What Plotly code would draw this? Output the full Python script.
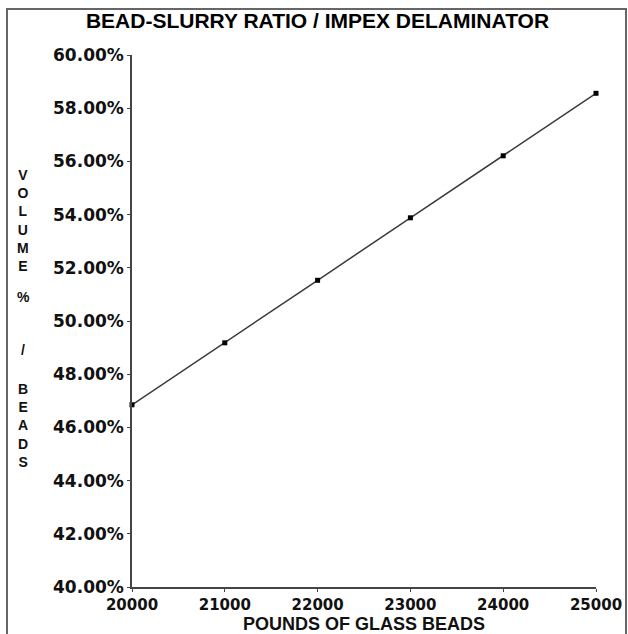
import plotly.graph_objects as go

# Data
pounds = [20000, 21000, 22000, 23000, 24000, 25000]
volume_pct = [46.85, 49.18, 51.53, 53.88, 56.21, 58.56]

x_ticks = [20000, 21000, 22000, 23000, 24000, 25000]
y_ticks = [40, 42, 44, 46, 48, 50, 52, 54, 56, 58, 60]

title_text = "BEAD-SLURRY RATIO / IMPEX DELAMINATOR"
x_title = "POUNDS OF GLASS BEADS"
y_title_parts = ["V<br>O<br>L<br>U<br>M<br>E", "%", "/", "B<br>E<br>A<br>D<br>S"]

W, H = 628, 634
L, R, T, B = 132, 32, 55, 47
pw, ph = W - L - R, H - T - B


def px_x(px):
    return (px - L) / pw


def px_y(py):
    return (H - B - py) / ph


fig = go.Figure()
fig.add_trace(go.Scatter(
    x=pounds, y=volume_pct, mode="lines+markers",
    line=dict(color="#3a3a3a", width=1.5),
    marker=dict(symbol="square", size=5, color="black"),
    showlegend=False, cliponaxis=False,
))

fig.update_layout(
    width=W, height=H,
    margin=dict(l=L, r=R, t=T, b=B, autoexpand=False),
    paper_bgcolor="white", plot_bgcolor="white",
    title=dict(text=title_text, x=317.5 / W, xanchor="center",
               y=1 - 21 / H, yanchor="middle", yref="container",
               font=dict(family="Liberation Sans", size=21, color="black", weight="bold")),
    xaxis=dict(range=[20000, 25000], tickvals=x_ticks, ticktext=[str(v) for v in x_ticks],
               showgrid=False, zeroline=False, showline=True, linecolor="#444444", linewidth=1.5,
               ticks="outside", ticklen=3, tickcolor="#444444", ticklabelstandoff=0,
               tickfont=dict(family="DejaVu Sans", size=15, color="#111111", weight="bold")),
    yaxis=dict(range=[40, 60], tickvals=y_ticks, ticktext=[f"{v:.2f}%" for v in y_ticks],
               showgrid=False, zeroline=False, showline=True, linecolor="#444444", linewidth=1.5,
               ticks="outside", ticklen=3, tickcolor="#444444",
               tickfont=dict(family="DejaVu Sans", size=17, color="#111111", weight="bold")),
)

# X-axis title
fig.add_annotation(text=x_title, xref="paper", yref="paper",
                   x=px_x(364), y=px_y(624), xanchor="center", yanchor="middle",
                   showarrow=False,
                   font=dict(family="Liberation Sans", size=18, color="#111111", weight="bold"))

# Stacked vertical Y-axis title
y_centers = [221, 297, 350, 425]
for txt, cy in zip(y_title_parts, y_centers):
    fig.add_annotation(text=txt, xref="paper", yref="paper",
                       x=px_x(23), y=px_y(cy), xanchor="center", yanchor="middle",
                       showarrow=False, align="center",
                       font=dict(family="Liberation Sans", size=14, color="#111111", weight="bold"))

# Outer frame of the scanned page
fig.add_shape(type="rect", xref="paper", yref="paper",
              x0=px_x(7), x1=px_x(626), y0=px_y(645), y1=px_y(9),
              line=dict(color="#666666", width=2), fillcolor="rgba(0,0,0,0)", layer="above")

fig.write_html("out.html", config={"displayModeBar": False},
               post_script="document.body.style.margin='0px';")
